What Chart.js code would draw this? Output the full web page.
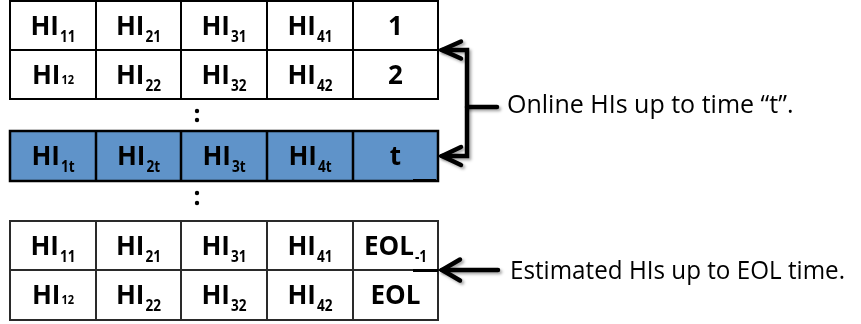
<!DOCTYPE html>
<html>
<head>
<meta charset="utf-8">
<script src="https://cdn.jsdelivr.net/npm/chart.js@4/dist/chart.umd.min.js"></script>
<style>
  html, body { margin: 0; padding: 0; background: #ffffff; }
  #wrap { width: 861px; height: 324px; }
</style>
</head>
<body>
<div id="wrap"><canvas id="c" width="861" height="324"></canvas></div>
<script>
// ---- content (text of each cell: main|subscript) ----
const rowsOnline = [
  ["HI|11", "HI|21", "HI|31", "HI|41", "1"],
  ["HI|12", "HI|22", "HI|32", "HI|42", "2"]
];
const rowCurrent = ["HI|1t", "HI|2t", "HI|3t", "HI|4t", "t"];
const rowsEstimated = [
  ["HI|11", "HI|21", "HI|31", "HI|41", "EOL|-1"],
  ["HI|12", "HI|22", "HI|32", "HI|42", "EOL"]
];
const labelOnline = "Online HIs up to time \u201ct\u201d.";
const labelEstimated = "Estimated HIs up to EOL time.";

// ---- layout (in chart units = pixels of the 861x324 frame) ----
const X_EDGES = [10, 96, 181, 267, 353, 438];
const Y_ONLINE = [1, 50, 99];
const Y_CURRENT = [131, 181];
const Y_EST = [221, 270, 320];
const COLON_X = 197;
const COLONS_Y = [[111, 120], [193, 203]];
const INLINE_SUB = { "HI|12": true }; // first-column second-row style: small digits on baseline

const MAIN_FONT = "bold 26px 'Open Sans', 'DejaVu Sans', sans-serif";
const SUB_FONT = "bold 16px 'Open Sans', 'DejaVu Sans', sans-serif";
const SMALL_FONT = "bold 13px 'Open Sans', 'DejaVu Sans', sans-serif";
const LABEL_FONT = "25px 'Open Sans', 'DejaVu Sans', sans-serif";

function drawCellText(ctx, txt, cx, baseline, inlineSmall) {
  const parts = txt.split("|");
  const main = parts[0], sub = parts[1] || "";
  ctx.font = MAIN_FONT;
  const wm = ctx.measureText(main).width;
  let ws = 0, subFont = inlineSmall ? SMALL_FONT : SUB_FONT;
  if (sub) { ctx.font = subFont; ws = ctx.measureText(sub).width * 0.85; }
  const total = wm + ws + (sub ? 1 : 0);
  let x0 = cx - total / 2;
  ctx.fillStyle = "#000";
  ctx.textAlign = "left";
  ctx.textBaseline = "alphabetic";
  ctx.font = MAIN_FONT;
  ctx.fillText(main, x0, baseline);
  if (sub) {
    ctx.font = subFont;
    ctx.save();
    ctx.translate(x0 + wm + 1, baseline + (inlineSmall ? 0 : 7));
    ctx.scale(0.85, 1);
    ctx.fillText(sub, 0, 0);
    ctx.restore();
  }
}

function fitText(ctx, txt, x, baseline, targetW) {
  ctx.font = LABEL_FONT;
  const w = ctx.measureText(txt).width;
  const s = Math.min(1, targetW / w);
  ctx.save();
  ctx.translate(x, baseline);
  ctx.scale(s, 1);
  ctx.fillStyle = "#000";
  ctx.textAlign = "left";
  ctx.textBaseline = "alphabetic";
  ctx.fillText(txt, 0, 0);
  ctx.restore();
}

const diagramPlugin = {
  id: "diagram",
  afterDatasetsDraw(chart) {
    const ctx = chart.ctx;
    const sx = chart.scales.x, sy = chart.scales.y;
    const X = v => sx.getPixelForValue(v);
    const Y = v => sy.getPixelForValue(v);

    function drawBlock(rows, yEdges, fill, stroke, lw) {
      ctx.save();
      const x0 = X(X_EDGES[0]), x1 = X(X_EDGES[X_EDGES.length - 1]);
      const y0 = Y(yEdges[0]), y1 = Y(yEdges[yEdges.length - 1]);
      if (fill) { ctx.fillStyle = fill; ctx.fillRect(x0, y0, x1 - x0, y1 - y0); }
      ctx.strokeStyle = stroke; ctx.lineWidth = lw;
      ctx.beginPath();
      yEdges.forEach(v => { ctx.moveTo(x0 - lw / 2, Y(v)); ctx.lineTo(x1 + lw / 2, Y(v)); });
      X_EDGES.forEach(v => { ctx.moveTo(X(v), y0); ctx.lineTo(X(v), y1); });
      ctx.stroke();
      rows.forEach((row, r) => {
        const cy = (Y(yEdges[r]) + Y(yEdges[r + 1])) / 2;
        row.forEach((txt, c) => {
          const cx = (X(X_EDGES[c]) + X(X_EDGES[c + 1])) / 2;
          drawCellText(ctx, txt, cx, cy + 9, c === 0 && r === 1 && INLINE_SUB[txt]);
        });
      });
      ctx.restore();
    }

    drawBlock(rowsOnline, Y_ONLINE, null, "#000", 2);
    drawBlock([rowCurrent], Y_CURRENT, "#5f93c9", "#000", 2.5);
    drawBlock(rowsEstimated, Y_EST, null, "#2a2a2a", 2);

    // colons
    ctx.save();
    ctx.fillStyle = "#000";
    COLONS_Y.forEach(pair => pair.forEach(v => {
      ctx.beginPath(); ctx.arc(X(COLON_X), Y(v), 2.2, 0, Math.PI * 2); ctx.fill();
    }));
    // small thick artifacts at cell corners
    ctx.fillRect(X(413), Y(179), X(436) - X(413), 3);
    ctx.fillRect(X(413), Y(269), X(438) - X(413), 3);
    ctx.restore();

    // arrows
    ctx.save();
    ctx.strokeStyle = "#000";
    ctx.lineWidth = 4.5;
    ctx.lineCap = "round";
    ctx.lineJoin = "miter";
    ctx.shadowColor = "rgba(0,0,0,0.35)";
    ctx.shadowBlur = 3;
    ctx.shadowOffsetX = 2;
    ctx.shadowOffsetY = 2;
    // bracket
    ctx.beginPath();
    ctx.moveTo(X(442), Y(50)); ctx.lineTo(X(467), Y(50)); ctx.lineTo(X(467), Y(156)); ctx.lineTo(X(442), Y(156));
    ctx.stroke();
    ctx.beginPath();
    ctx.moveTo(X(467), Y(107)); ctx.lineTo(X(497), Y(107));
    ctx.stroke();
    function chevron(tx, ty, dx, dy) {
      ctx.beginPath();
      ctx.moveTo(X(tx + dx), Y(ty - dy)); ctx.lineTo(X(tx), Y(ty)); ctx.lineTo(X(tx + dx), Y(ty + dy));
      ctx.stroke();
    }
    chevron(442, 50, 19, 8.5);
    chevron(442, 156, 19, 9);
    ctx.lineWidth = 4.5;
    ctx.beginPath();
    ctx.moveTo(X(442), Y(270)); ctx.lineTo(X(498), Y(270));
    ctx.stroke();
    chevron(442, 270, 18, 10.5);
    ctx.restore();

    // labels
    fitText(ctx, labelOnline, X(507), Y(113), 293);
    fitText(ctx, labelEstimated, X(510), Y(279), 335);
  }
};

new Chart(document.getElementById("c"), {
  type: "scatter",
  data: { datasets: [] },
  options: {
    responsive: false,
    animation: false,
    events: [],
    layout: { padding: 0 },
    plugins: { legend: { display: false }, tooltip: { enabled: false }, title: { display: false } },
    scales: {
      x: { type: "linear", min: 0, max: 861, display: false },
      y: { type: "linear", min: 0, max: 324, reverse: true, display: false }
    }
  },
  plugins: [diagramPlugin]
});
</script>
</body>
</html>
